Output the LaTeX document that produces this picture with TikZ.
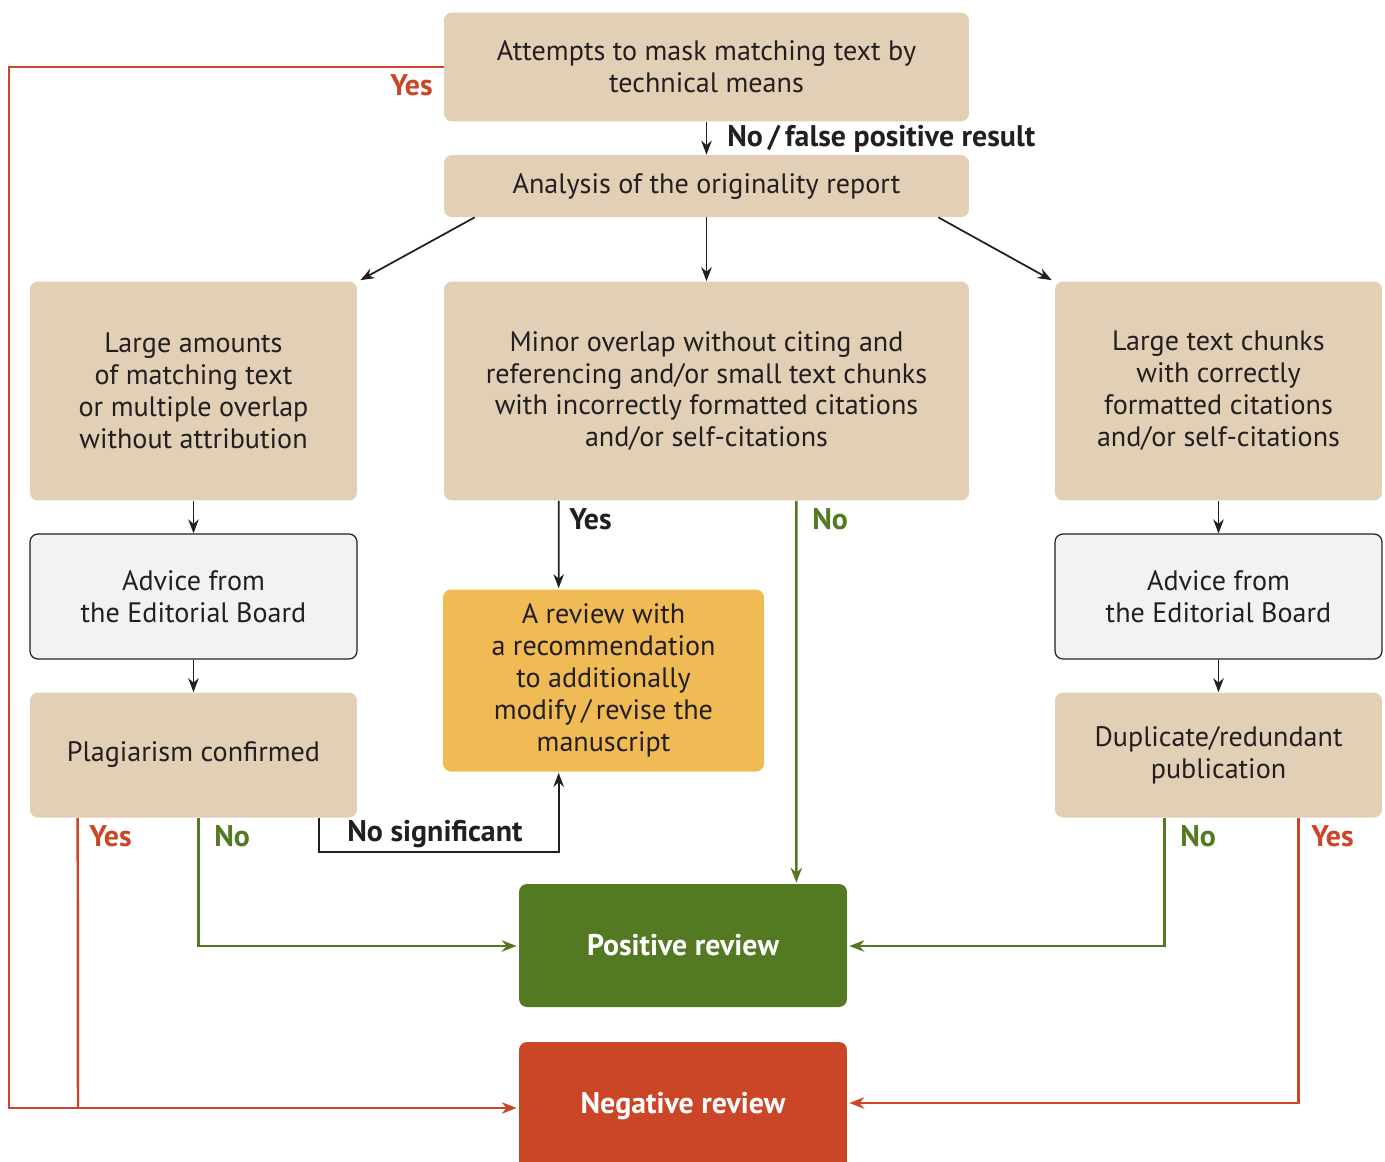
\documentclass[tikz,border=0pt]{standalone}
\usepackage{fontspec}
\setmainfont{PT Sans}
\usetikzlibrary{arrows.meta,calc}

\definecolor{boxbeige}{HTML}{E1CFB6}
\definecolor{boxgray}{HTML}{F1F2F4}
\definecolor{boxyellow}{HTML}{F0BA55}
\definecolor{okgreen}{HTML}{537A22}
\definecolor{badred}{HTML}{CA4627}
\definecolor{inkdark}{HTML}{231F20}

\tikzset{
  box/.style={rectangle, rounded corners=4.5pt, inner sep=0pt, align=center,
    text=inkdark, fill=boxbeige},
  advice/.style={box, fill=boxgray, draw=inkdark, line width=0.7pt},
  verdict/.style={box, text=white, font=\fontsize{17}{20}\selectfont\bfseries},
  arr/.style={draw=inkdark, line width=1pt, -{Stealth[length=8pt,width=6pt]}},
  greenarr/.style={draw=okgreen, line width=1.4pt, -{Stealth[length=8.5pt,width=6.5pt]}},
  redarr/.style={draw=badred, line width=1.4pt, -{Stealth[length=8.5pt,width=6.5pt]}},
  lbl/.style={inner sep=0pt, anchor=west, font=\fontsize{17}{20}\selectfont\bfseries}
}

\begin{document}
\begin{tikzpicture}[x=0.02cm, y=-0.02cm, font=\fontsize{16}{18.2}\selectfont]
  \useasboundingbox (0,0) rectangle (1385,1161);

  % boxes
  \node[box, minimum width=10.5cm, minimum height=2.18cm] (mask) at (706.5,67)
    {Attempts to mask matching text by\\technical means};
  \node[box, minimum width=10.5cm, minimum height=1.24cm] (report) at (706.5,186)
    {Analysis of the originality report};
  \node[box, minimum width=6.54cm, minimum height=4.38cm] (large) at (193.5,391)
    {Large amounts\\of matching text\\or multiple overlap\\without attribution};
  \node[box, minimum width=10.5cm, minimum height=4.38cm] (minor) at (706.5,391)
    {Minor overlap without citing and\\referencing and/or small text chunks\\with incorrectly formatted citations\\and/or self-citations};
  \node[box, minimum width=6.54cm, minimum height=4.38cm] (chunks) at (1218.5,391)
    {Large text chunks\\with correctly\\formatted citations\\and/or self-citations};
  \node[advice, minimum width=6.54cm, minimum height=2.5cm] (adviceL) at (193.5,596.5)
    {Advice from\\the Editorial Board};
  \node[advice, minimum width=6.54cm, minimum height=2.5cm] (adviceR) at (1218.5,596.5)
    {Advice from\\the Editorial Board};
  \node[box, minimum width=6.54cm, minimum height=2.5cm] (plag) at (193.5,755)
    {Plagiarism confirmed};
  \node[box, minimum width=6.54cm, minimum height=2.5cm] (dup) at (1218.5,755)
    {Duplicate/redundant\\publication};
  \node[box, fill=boxyellow, minimum width=6.42cm, minimum height=3.64cm] (revise) at (603.5,680.5)
    {A review with\\a recommendation\\to additionally\\modify\,/\,revise the\\manuscript};
  \node[verdict, fill=okgreen, minimum width=6.56cm, minimum height=2.46cm] (pos) at (683,945.5)
    {Positive review};
  \node[verdict, fill=badred, minimum width=6.56cm, minimum height=2.56cm] (neg) at (683,1106)
    {Negative review};

  \coordinate (farleft) at (9,1108);
  \coordinate (yesjoin) at (78,1108);

  % black arrows
  \draw[arr] (mask) -- (report);
  \draw[arr] ($(report.south west)+(31,0)$) -- ($(large.north east)+(3,-1)$);
  \draw[arr] (report) -- (minor);
  \draw[arr] ($(report.south east)+(-31,0)$) -- ($(chunks.north west)+(-3,-1)$);
  \draw[arr] (large) -- (adviceL);
  \draw[arr] (adviceL) -- (plag);
  \draw[arr] (chunks) -- (adviceR);
  \draw[arr] (adviceR) -- (dup);
  \draw[arr] ($(minor.south west)+(115,0)$) -- ($(revise.north west)+(116,-1)$);
  \draw[arr] ($(plag.south east)+(-38,0)$) -- ++(0,34) -| ($(revise.south west)+(116,1)$);

  % green arrows
  \draw[greenarr] ($(minor.south east)+(-173,0)$) -- ($(pos.north east)+(-51,-1)$);
  \draw[greenarr] ($(plag.south west)+(169,0)$) |- ($(pos.west)+(-2,0.5)$);
  \draw[greenarr] ($(dup.south west)+(110,0)$) |- ($(pos.east)+(2,0.5)$);

  % red arrows
  \draw[redarr] (mask.west) -| (farleft) -- ($(neg.west)+(-2,2)$);
  \draw[draw=badred, line width=1.4pt] ($(plag.south west)+(48,0)$) -- (yesjoin);
  \draw[redarr] ($(dup.south east)+(-84,0)$) |- ($(neg.east)+(2,-3)$);

  % labels
  \node[lbl, text=inkdark] (lfalse) at (727,139) {No\,/\,false positive result};
  \node[lbl, text=badred] (lyes0) at (390,85) {Yes};
  \node[lbl, text=inkdark] (lyes1) at (569,519) {Yes};
  \node[lbl, text=okgreen] (lno1) at (812,519) {No};
  \node[lbl, text=badred] (lyes2) at (89,836) {Yes};
  \node[lbl, text=okgreen] (lno2) at (214,836) {No};
  \node[lbl, text=inkdark] (lnosig) at (347,834) {No significant};
  \node[lbl, text=okgreen] (lno3) at (1180,836) {No};
  \node[lbl, text=badred] (lyes3) at (1311,836) {Yes};
\end{tikzpicture}
\end{document}
